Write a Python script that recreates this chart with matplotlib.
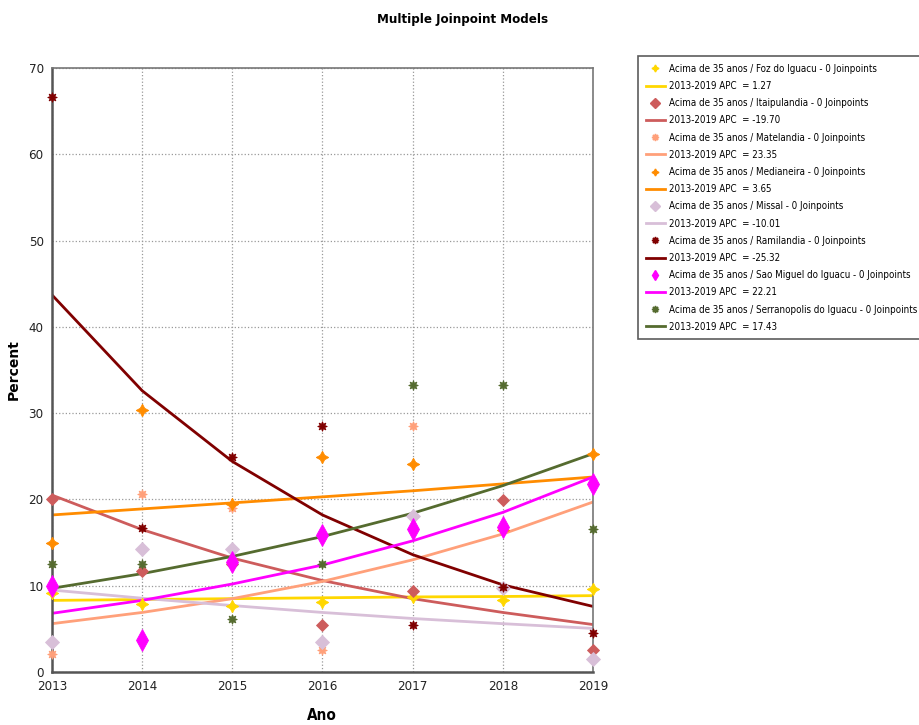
import matplotlib
matplotlib.use('Agg')
import matplotlib.pyplot as plt
from matplotlib.lines import Line2D

plt.rcParams['font.family'] = ['DejaVu Sans']
plt.rcParams['font.stretch'] = 'condensed'

# ── Data ───────────────────────────────────────────────────
years = [2013, 2014, 2015, 2016, 2017, 2018, 2019]

names = ['Foz do Iguacu', 'Itaipulandia', 'Matelandia', 'Medianeira',
         'Missal', 'Ramilandia', 'Sao Miguel do Iguacu', 'Serranopolis do Iguacu']
apc = ['1.27', '-19.70', '23.35', '3.65', '-10.01', '-25.32', '22.21', '17.43']

# observed values
foz_obs = [9.1, 7.9, 7.7, 8.1, 8.7, 8.3, 9.6]
itai_obs = [20.0, 11.7, 12.5, 5.4, 9.4, 19.9, 2.5]
mate_obs = [2.1, 20.6, 19.0, 2.6, 28.5, 16.5, 22.0]
medi_obs = [14.9, 30.4, 19.5, 24.9, 24.1, 16.5, 25.3]
miss_obs = [3.5, 14.2, 14.3, 3.5, 18.1, 9.7, 1.5]
rami_obs = [66.6, 16.7, 24.9, 28.5, 5.4, 9.9, 4.5]
sao_obs = [10.0, 3.7, 12.7, 15.9, 16.6, 16.8, 21.8]
serr_obs = [12.5, 12.5, 6.2, 12.5, 33.3, 33.3, 16.6]

# modelled (joinpoint) values
foz_fit = [8.3, 8.4, 8.5, 8.6, 8.7, 8.75, 8.85]
itai_fit = [20.5, 16.5, 13.2, 10.6, 8.5, 6.9, 5.5]
mate_fit = [5.6, 6.9, 8.5, 10.5, 13.0, 16.0, 19.7]
medi_fit = [18.2, 18.9, 19.6, 20.3, 21.0, 21.8, 22.6]
miss_fit = [9.5, 8.55, 7.7, 6.9, 6.2, 5.6, 5.05]
rami_fit = [43.7, 32.6, 24.4, 18.2, 13.6, 10.1, 7.6]
sao_fit = [6.8, 8.3, 10.2, 12.4, 15.2, 18.5, 22.6]
serr_fit = [9.7, 11.4, 13.4, 15.7, 18.4, 21.6, 25.3]

observed = [foz_obs, itai_obs, mate_obs, medi_obs, miss_obs, rami_obs, sao_obs, serr_obs]
fitted = [foz_fit, itai_fit, mate_fit, medi_fit, miss_fit, rami_fit, sao_fit, serr_fit]

colors = ['#FFD700', '#CD5C5C', '#FFA07A', '#FF8C00',
          '#D8BFD8', '#800000', '#FF00FF', '#556B2F']
markers = [(4, 1, 0), 'D', (8, 1, 0), (4, 1, 0), 'D', (8, 1, 0), 'd', (8, 1, 0)]
msizes = [9, 6, 7, 9, 7, 7, 11, 7]

fig = plt.figure(figsize=(9.2, 7.25), dpi=100)
ax = fig.add_axes([52 / 920, 1 - 672 / 725, (593 - 52) / 920, (672 - 68) / 725])

handles = []
labels = []
for i in range(len(names)):
    ax.plot(years, observed[i], linestyle='none', marker=markers[i],
            markersize=msizes[i], color=colors[i], markeredgewidth=0.6,
            clip_on=False, zorder=3)
    ax.plot(years, fitted[i], color=colors[i], linewidth=2, zorder=2)
    handles.append(Line2D([], [], linestyle='none', marker=markers[i],
                          markersize=5, color=colors[i]))
    labels.append(f'Acima de 35 anos / {names[i]} - 0 Joinpoints')
    handles.append(Line2D([], [], color=colors[i], linewidth=2))
    labels.append(f'2013-2019 APC  = {apc[i]}')

ax.set_xlim(2013, 2019)
ax.set_ylim(0, 70)
ax.set_xticks(years)
ax.set_yticks(range(0, 71, 10))
ax.tick_params(labelsize=9.5, length=0, pad=6, colors='#222222')
ax.grid(True, linestyle=':', color='#999999', linewidth=0.9)
for side in ['left', 'bottom']:
    ax.spines[side].set_color('#555555')
    ax.spines[side].set_linewidth(1.8)
for side in ['top', 'right']:
    ax.spines[side].set_color('#777777')
    ax.spines[side].set_linewidth(1.2)

fig.text(463 / 920, 1 - 20 / 725, 'Multiple Joinpoint Models', ha='center', va='center',
         fontsize=9.5, fontweight='bold')
fig.text(14 / 920, 1 - 370 / 725, 'Percent', rotation=90, ha='center', va='center',
         fontsize=10, fontweight='bold', stretch='normal')
fig.text(322 / 920, 1 - 716 / 725, 'Ano', ha='center', va='center',
         fontsize=11, fontweight='bold')

leg = fig.legend(handles, labels, loc='upper left',
                 bbox_to_anchor=(638 / 920, 1 - 56 / 725),
                 fontsize=7.0, frameon=True, fancybox=False, shadow=False,
                 handlelength=2.0, handletextpad=0.4, labelspacing=0.74,
                 borderpad=0.8, borderaxespad=0)
leg.get_frame().set_edgecolor('#333333')
leg.get_frame().set_linewidth(1.2)

fig.savefig('out.png', dpi=100)
